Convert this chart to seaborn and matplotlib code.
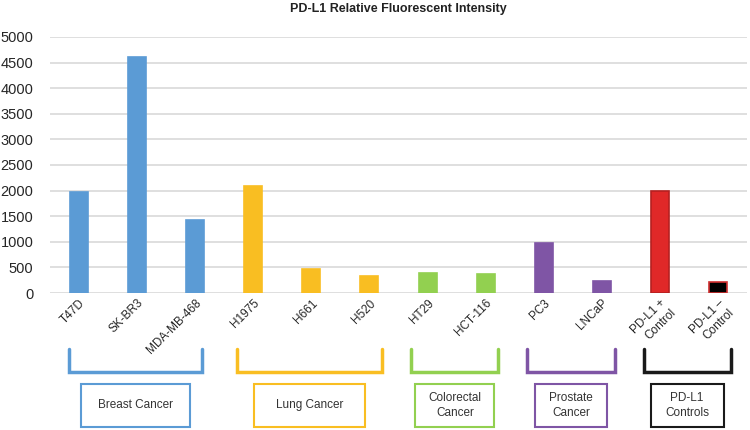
import seaborn as sns
import matplotlib.pyplot as plt
import pandas as pd

# data
cells = ['T47D', 'SK-BR3', 'MDA-MB-468', 'H1975', 'H661', 'H520', 'HT29',
         'HCT-116', 'PC3', 'LNCaP', 'PD-L1 +\nControl', 'PD-L1 \u2013\nControl']
values = [1970, 4610, 1430, 2090, 460, 330, 390, 370, 970, 230, 1990, 210]
groups = ['Breast Cancer', 'Lung Cancer', 'Colorectal\nCancer', 'Prostate\nCancer', 'PD-L1\nControls']
group_sizes = [3, 3, 2, 2, 2]
group_colors = ['#5B9BD5', '#F9BE22', '#92D050', '#7F55A5', '#1A1A1A']
bar_colors = ['#5B9BD5'] * 3 + ['#F9BE22'] * 3 + ['#92D050'] * 2 + ['#7F55A5'] * 2 + ['#E02828', '#000000']
edge_colors = bar_colors[:10] + ['#B52020', '#D03030']
box_widths = [1.88, 1.9, 1.36, 1.24, 1.26]  # label box width, in category units

df = pd.DataFrame({'cell': cells, 'value': values})

sns.set_style('white')
plt.rcParams['font.family'] = ['Liberation Sans', 'DejaVu Sans']

fig = plt.figure(figsize=(7.5, 4.3), dpi=100)
ax = fig.add_axes([0.0667, 0.3186, 0.9293, 0.5954])

sns.barplot(data=df, x='cell', y='value', hue='cell', palette=bar_colors,
            width=0.31, legend=False, ax=ax, saturation=1)
for p, ec in zip(ax.patches, edge_colors):
    p.set_edgecolor(ec)
    p.set_linewidth(1.2)

ax.set_ylim(0, 5000)
ax.set_xlim(-0.5, len(cells) - 0.5)
ax.set_yticks(range(0, 5001, 500))
ax.yaxis.grid(True, color='#D9D9D9', linewidth=1.2)
ax.set_axisbelow(True)
sns.despine(ax=ax, left=True, bottom=True, top=True, right=True)
ax.tick_params(axis='both', length=0)
ax.tick_params(axis='y', labelsize=10.5, pad=12)
ax.set_xticks(range(len(cells)))
ax.set_xticklabels(cells, rotation=45, ha='right', rotation_mode='anchor', fontsize=8.5)
ax.tick_params(axis='x', pad=3)
ax.set_xlabel('')
ax.set_ylabel('')
ax.set_title('PD-L1 Relative Fluorescent Intensity', fontsize=9, fontweight='bold',
             color='#222222', pad=18)

# group brackets and label boxes under the axis
tr = ax.get_xaxis_transform()
start = 0
for name, n, col, bw in zip(groups, group_sizes, group_colors, box_widths):
    x0 = start - 0.28
    x1 = start + n - 1 + 0.22
    if start == 0:
        x0 = start - 0.17
        x1 = start + n - 1 + 0.12
    ax.plot([x0, x0, x1, x1], [-0.219, -0.307, -0.307, -0.219], transform=tr,
            color=col, linewidth=2.5, clip_on=False, solid_joinstyle='miter')
    cx = (x0 + x1) / 2
    ax.add_patch(plt.Rectangle((cx - bw / 2, -0.523), bw, 0.168, transform=tr,
                               fill=False, edgecolor=col, linewidth=1.5, clip_on=False))
    ax.text(cx, -0.439, name, transform=tr, ha='center', va='center',
            fontsize=8.5, color='#333333', linespacing=1.3)
    start += n

fig.savefig('out.png', dpi=100)
